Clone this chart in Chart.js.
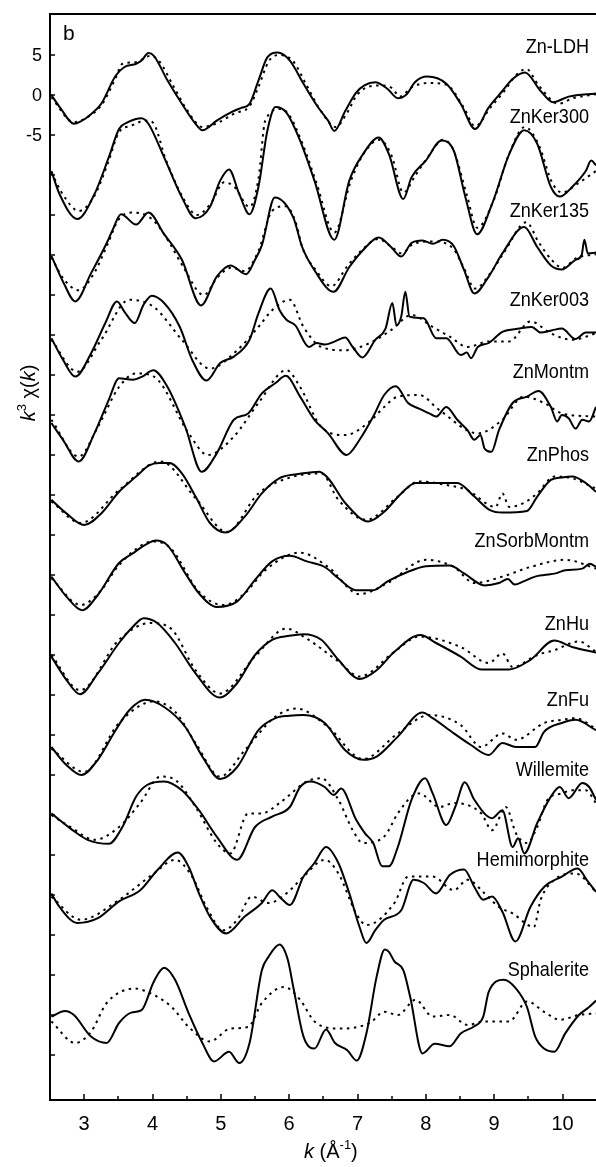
<!DOCTYPE html>
<html>
<head>
<meta charset="utf-8">
<script src="https://cdn.jsdelivr.net/npm/chart.js@4.4.1/dist/chart.umd.min.js"></script>
<style>
html,body{margin:0;padding:0;background:#fff;}
#wrap{width:596px;height:1167px;position:relative;}
</style>
</head>
<body>
<div id="wrap"><canvas id="c" width="596" height="1167"></canvas></div>
<script>
// ---- axis ticks ----
const xMajorTicks = [3, 4, 5, 6, 7, 8, 9, 10];
const xMinorTicks = [3.5, 4.5, 5.5, 6.5, 7.5, 8.5, 9.5];
const yTicks = [5,0,-5,-10,-15,-20,-25,-30,-35,-40,-45,-50,-55,-60,-65,-70,-75,-80,-85,-90,-95,-100,-105,-110,-115,-120];
const yTickLabels = ['5','0','-5'];

// ---- sample names ----
const sampleNames = ['Zn-LDH','ZnKer300','ZnKer135','ZnKer003','ZnMontm','ZnPhos','ZnSorbMontm','ZnHu','ZnFu','Willemite','Hemimorphite','Sphalerite'];
const sampleLabelLevel = [6.0,-2.75,-14.5,-25.6,-34.6,-45.0,-55.75,-66.1,-75.6,-84.4,-95.6,-109.4];

// ---- spectra [k, offset k^3 chi(k)] : experimental (solid) and fit (dotted) ----
const ldhExp = [[2.52,0],[2.65,-1.6],[2.85,-3.6],[2.95,-3.3],[3.1,-2.4],[3.25,-1.1],[3.46,2.4],[3.59,3.5],[3.76,3.9],[3.84,4.3],[3.94,5.25],[4.02,4.9],[4.22,1.8],[4.43,-1.1],[4.63,-3.6],[4.73,-4.4],[4.94,-3.2],[5.14,-2.2],[5.3,-1.6],[5.42,-1.1],[5.55,1.8],[5.68,4.7],[5.83,5.3],[6.01,4.3],[6.21,1.4],[6.42,-1.5],[6.57,-3.2],[6.66,-4.5],[6.82,-2.0],[6.98,0.3],[7.1,1.2],[7.26,1.6],[7.44,0.75],[7.59,-0.4],[7.72,0.1],[7.84,1.6],[8.02,2.3],[8.3,1.4],[8.51,-1.1],[8.72,-4.25],[8.92,-1.55],[9.12,0.5],[9.27,2.0],[9.45,2.8],[9.68,0.5],[9.86,-0.9],[10.09,-0.2],[10.49,0.2]];
const ldhFit = [[2.52,-0.3],[2.85,-3.4],[3.0,-3.0],[3.25,-1.3],[3.46,2.1],[3.56,3.9],[3.75,4.1],[3.97,4.9],[4.1,4.2],[4.3,1.2],[4.5,-1.8],[4.73,-4.0],[4.95,-3.5],[5.2,-2.3],[5.42,-1.4],[5.55,1.0],[5.7,4.2],[5.85,5.0],[6.05,4.3],[6.25,1.3],[6.45,-1.8],[6.68,-4.0],[6.85,-2.2],[7.0,0.1],[7.3,1.2],[7.5,0.9],[7.62,-0.2],[7.8,1.0],[8.05,1.5],[8.3,1.3],[8.55,-1.5],[8.72,-3.9],[8.95,-1.5],[9.15,0.5],[9.3,2.3],[9.47,3.25],[9.65,1.2],[9.94,-1.1],[10.15,-0.4],[10.49,0.1]];

const ker300Exp = [[2.52,-9.5],[2.64,-12.4],[2.9,-15.5],[3.15,-12.4],[3.36,-7.8],[3.51,-4.25],[3.64,-3.4],[3.84,-2.9],[3.94,-3.6],[4.17,-7.8],[4.43,-12.8],[4.63,-15.4],[4.84,-14.0],[4.99,-10.7],[5.12,-9.3],[5.27,-12.4],[5.42,-14.9],[5.55,-11.5],[5.68,-4.5],[5.8,-1.5],[5.96,-2.2],[6.16,-5.7],[6.37,-10.7],[6.66,-18.1],[6.88,-10.7],[7.08,-7.4],[7.31,-5.3],[7.46,-7.4],[7.67,-13.0],[7.79,-10.3],[8.0,-8.2],[8.23,-5.7],[8.41,-7.0],[8.58,-12.8],[8.75,-17.4],[8.97,-13.6],[9.22,-7.4],[9.44,-4.4],[9.63,-6.1],[9.83,-11.5],[9.96,-12.7],[10.14,-11.5],[10.34,-9.5],[10.42,-8.2],[10.49,-8.8]];
const ker300Fit = [[2.52,-9.7],[2.7,-12.6],[2.92,-14.5],[3.15,-12.6],[3.36,-8.2],[3.5,-4.8],[3.7,-3.8],[3.9,-3.2],[4.0,-3.4],[4.2,-8.2],[4.45,-12.9],[4.65,-15.0],[4.85,-13.6],[5.05,-10.9],[5.2,-11.5],[5.42,-14.0],[5.55,-10.5],[5.65,-3.2],[5.88,-1.75],[6.0,-2.5],[6.2,-6.2],[6.4,-11.0],[6.66,-17.2],[6.9,-10.8],[7.1,-7.2],[7.32,-5.6],[7.5,-7.6],[7.67,-12.2],[7.85,-10.0],[8.05,-7.5],[8.25,-5.6],[8.4,-6.8],[8.6,-12.5],[8.75,-16.6],[9.0,-13.0],[9.2,-7.8],[9.45,-4.0],[9.65,-6.2],[9.85,-11.0],[10.0,-12.2],[10.2,-11.2],[10.49,-9.5]];

const ker135Exp = [[2.52,-20.1],[2.7,-23.5],[2.87,-25.8],[3.1,-22.3],[3.33,-18.5],[3.41,-17.0],[3.54,-14.9],[3.76,-16.2],[3.94,-14.7],[4.17,-17.4],[4.43,-20.6],[4.71,-26.3],[4.94,-22.7],[5.14,-21.3],[5.37,-22.4],[5.5,-20.6],[5.6,-18.8],[5.79,-12.8],[6.06,-15.3],[6.19,-19.0],[6.37,-21.9],[6.65,-24.6],[6.88,-21.5],[7.08,-19.4],[7.31,-17.8],[7.49,-19.0],[7.64,-20.2],[7.79,-18.5],[7.95,-18.2],[8.1,-18.6],[8.25,-18.1],[8.41,-18.9],[8.56,-21.9],[8.71,-24.8],[8.92,-22.7],[9.12,-19.8],[9.44,-16.5],[9.63,-19.0],[9.83,-21.3],[9.99,-21.8],[10.19,-20.6],[10.28,-20.0],[10.32,-18.1],[10.37,-19.8],[10.49,-19.7]];
const ker135Fit = [[2.52,-20.3],[2.7,-23.0],[2.92,-24.4],[3.15,-22.2],[3.35,-18.5],[3.5,-15.6],[3.71,-14.7],[3.9,-15.0],[4.05,-16.0],[4.25,-18.5],[4.45,-21.5],[4.75,-25.0],[4.95,-22.8],[5.15,-21.6],[5.35,-22.0],[5.55,-19.5],[5.75,-14.5],[5.95,-13.9],[6.1,-16.0],[6.19,-19.0],[6.4,-22.0],[6.62,-23.9],[6.85,-21.4],[7.05,-19.5],[7.3,-18.0],[7.5,-19.0],[7.65,-19.8],[7.8,-18.7],[8.1,-18.3],[8.4,-19.2],[8.55,-21.5],[8.72,-24.2],[8.95,-22.2],[9.15,-19.6],[9.47,-15.9],[9.65,-18.4],[9.85,-20.7],[10.0,-21.6],[10.2,-20.4],[10.49,-19.9]];

const ker003Exp = [[2.52,-30.4],[2.69,-33.1],[2.87,-35.2],[3.1,-32.3],[3.31,-28.5],[3.48,-25.8],[3.59,-27.1],[3.74,-28.5],[3.87,-26.2],[3.99,-25.1],[4.17,-26.0],[4.4,-29.0],[4.58,-33.1],[4.79,-35.7],[4.99,-33.5],[5.19,-32.7],[5.42,-30.6],[5.55,-27.3],[5.73,-24.2],[5.86,-26.9],[5.96,-28.1],[6.09,-28.8],[6.29,-31.5],[6.4,-31.0],[6.52,-31.2],[6.67,-30.8],[6.82,-30.3],[6.93,-31.5],[7.07,-32.8],[7.26,-30.6],[7.41,-29.2],[7.51,-26.0],[7.57,-28.8],[7.64,-27.7],[7.7,-24.6],[7.76,-27.7],[7.97,-27.9],[8.15,-30.4],[8.3,-30.4],[8.51,-32.5],[8.6,-32.2],[8.66,-32.9],[8.76,-31.5],[8.92,-31.0],[9.12,-29.6],[9.37,-29.2],[9.55,-29.0],[9.68,-29.7],[9.85,-29.4],[9.99,-29.2],[10.19,-30.5],[10.34,-29.7],[10.49,-29.7]];
const ker003Fit = [[2.52,-30.6],[2.9,-34.6],[3.25,-30.6],[3.66,-25.6],[4.02,-26.5],[4.43,-30.6],[4.84,-34.2],[5.24,-31.9],[5.55,-29.0],[5.75,-26.9],[6.01,-25.6],[6.21,-29.0],[6.47,-31.5],[6.82,-31.9],[7.18,-31.0],[7.49,-29.4],[7.79,-27.5],[8.1,-29.0],[8.35,-30.2],[8.61,-31.5],[8.92,-30.8],[9.22,-30.8],[9.53,-28.3],[9.83,-29.8],[10.14,-30.6],[10.49,-29.8]];

const montmExp = [[2.52,-41.0],[2.69,-43.1],[2.92,-45.8],[3.15,-42.3],[3.36,-38.1],[3.51,-35.4],[3.71,-35.6],[3.85,-35.2],[4.01,-34.4],[4.22,-36.5],[4.48,-41.5],[4.72,-47.1],[4.94,-44.8],[5.19,-40.6],[5.4,-39.8],[5.6,-37.3],[5.8,-36.0],[5.95,-35.1],[6.16,-37.7],[6.37,-40.6],[6.57,-42.3],[6.84,-45.0],[7.03,-43.1],[7.23,-40.2],[7.39,-37.5],[7.56,-36.4],[7.74,-38.5],[7.9,-39.2],[8.05,-39.8],[8.15,-40.2],[8.3,-39.0],[8.46,-40.6],[8.61,-41.9],[8.71,-43.1],[8.8,-42.5],[8.86,-44.2],[8.96,-44.6],[9.07,-41.9],[9.27,-38.5],[9.48,-37.7],[9.65,-37.0],[9.83,-39.0],[9.92,-40.8],[9.99,-40.0],[10.09,-40.4],[10.19,-41.7],[10.29,-40.6],[10.39,-40.8],[10.49,-39.0]];
const montmFit = [[2.52,-40.6],[2.92,-45.2],[3.2,-41.5],[3.51,-36.5],[3.76,-34.8],[4.02,-35.2],[4.53,-42.3],[4.81,-45.0],[5.19,-42.7],[5.55,-38.5],[5.96,-34.4],[6.16,-36.5],[6.47,-41.5],[6.82,-42.5],[7.18,-40.8],[7.39,-39.0],[7.59,-37.7],[7.9,-37.5],[8.2,-39.4],[8.76,-42.3],[9.12,-40.6],[9.43,-37.7],[9.73,-38.5],[9.99,-39.8],[10.49,-40.2]];

const phosExp = [[2.52,-50.6],[2.74,-52.3],[3.0,-53.75],[3.25,-52.3],[3.51,-49.6],[3.76,-47.7],[3.95,-46.3],[4.1,-46.0],[4.25,-46.0],[4.43,-47.3],[4.63,-50.2],[4.84,-53.5],[5.07,-54.7],[5.35,-52.7],[5.6,-49.8],[5.86,-47.9],[6.11,-47.4],[6.3,-47.2],[6.44,-47.1],[6.57,-47.9],[6.82,-51.0],[7.16,-53.3],[7.39,-52.1],[7.64,-49.8],[7.85,-48.5],[8.1,-48.5],[8.46,-48.5],[8.71,-50.2],[8.94,-51.9],[9.12,-52.2],[9.48,-52.0],[9.63,-50.2],[9.83,-48.1],[9.99,-47.8],[10.14,-47.7],[10.34,-48.5],[10.49,-49.6]];
const phosFit = [[2.52,-50.8],[2.95,-53.5],[3.51,-49.4],[4.12,-45.8],[4.63,-50.4],[5.09,-54.6],[5.55,-49.8],[6.06,-47.7],[6.47,-47.3],[6.72,-50.6],[7.13,-53.1],[7.59,-50.2],[7.9,-48.3],[8.3,-48.75],[8.61,-49.4],[9.02,-51.5],[9.12,-49.8],[9.22,-51.5],[9.43,-51.0],[9.63,-49.8],[9.88,-47.7],[10.14,-47.9],[10.49,-49.2]];

const sorbExp = [[2.52,-60.2],[2.74,-62.7],[2.97,-64.4],[3.2,-62.5],[3.51,-58.5],[3.71,-57.3],[3.9,-56.2],[4.05,-55.7],[4.22,-56.3],[4.48,-59.8],[4.68,-62.3],[4.94,-64.0],[5.24,-63.3],[5.5,-60.6],[5.75,-58.3],[6.01,-57.6],[6.26,-58.3],[6.52,-59.0],[6.72,-60.4],[6.98,-61.9],[7.23,-61.9],[7.44,-60.8],[7.74,-59.6],[8.0,-58.9],[8.35,-58.8],[8.56,-59.8],[8.86,-61.3],[9.07,-61.0],[9.2,-60.5],[9.3,-61.2],[9.43,-60.8],[9.6,-60.2],[9.73,-60.0],[9.9,-59.8],[10.04,-59.4],[10.29,-59.2],[10.4,-58.6],[10.49,-59.0]];
const sorbFit = [[2.52,-60.4],[2.95,-63.75],[3.25,-61.9],[3.51,-58.75],[4.02,-55.8],[4.27,-56.7],[4.68,-62.1],[5.04,-63.75],[5.35,-62.3],[5.65,-59.4],[6.16,-57.2],[6.57,-59.0],[7.03,-62.4],[7.44,-61.0],[8.0,-58.1],[8.41,-59.0],[8.71,-61.0],[9.12,-60.2],[9.53,-59.0],[10.04,-58.1],[10.49,-59.2]];

const huExp = [[2.52,-70.2],[2.74,-73.1],[2.94,-74.9],[3.2,-72.3],[3.51,-68.5],[3.71,-66.5],[3.87,-65.4],[4.07,-66.0],[4.33,-68.5],[4.63,-72.3],[4.98,-75.3],[5.24,-73.5],[5.5,-70.0],[5.75,-68.1],[6.0,-67.6],[6.21,-67.4],[6.47,-68.1],[6.72,-70.6],[7.03,-73.0],[7.28,-71.9],[7.54,-69.6],[7.92,-67.5],[8.15,-68.5],[8.51,-70.2],[8.81,-71.8],[9.22,-71.8],[9.53,-70.6],[9.88,-68.2],[10.14,-69.0],[10.49,-69.7]];
const huFit = [[2.52,-70.0],[2.94,-74.4],[3.51,-68.1],[3.97,-66.0],[4.27,-66.7],[4.63,-71.9],[4.99,-74.8],[5.5,-70.2],[5.96,-66.7],[6.21,-67.7],[6.72,-70.8],[7.03,-72.7],[7.54,-69.6],[7.9,-67.7],[8.51,-69.0],[8.92,-71.0],[9.12,-69.8],[9.27,-71.5],[9.63,-70.0],[9.88,-69.4],[10.24,-68.3],[10.49,-69.6]];

const fuExp = [[2.52,-81.5],[2.74,-83.75],[2.96,-85.0],[3.2,-83.1],[3.46,-79.4],[3.66,-76.9],[3.89,-75.6],[4.17,-76.5],[4.48,-79.0],[4.73,-82.7],[4.99,-85.5],[5.24,-84.0],[5.55,-79.4],[5.8,-77.9],[6.0,-77.6],[6.21,-77.5],[6.52,-78.5],[6.82,-81.9],[7.08,-83.1],[7.28,-82.7],[7.59,-80.2],[7.95,-77.2],[8.1,-77.9],[8.41,-79.8],[8.66,-81.25],[8.92,-82.5],[9.12,-81.0],[9.32,-81.5],[9.6,-81.5],[9.73,-79.6],[9.99,-78.5],[10.19,-78.1],[10.49,-79.4]];
const fuFit = [[2.52,-81.7],[3.0,-84.6],[3.51,-78.5],[4.02,-75.8],[4.33,-77.1],[4.63,-81.0],[4.99,-85.2],[5.35,-81.9],[5.8,-77.7],[6.11,-76.7],[6.57,-79.0],[7.08,-83.0],[7.59,-79.8],[8.05,-77.5],[8.51,-78.75],[8.81,-81.5],[9.12,-79.8],[9.32,-80.6],[9.73,-78.5],[9.99,-78.1],[10.19,-77.9],[10.49,-79.2]];

const willExp = [[2.52,-89.8],[2.8,-91.7],[3.05,-93.1],[3.36,-93.6],[3.56,-91.5],[3.76,-87.7],[3.92,-86.25],[4.17,-85.8],[4.43,-86.9],[4.68,-89.4],[4.94,-92.7],[5.24,-95.6],[5.5,-91.5],[5.75,-90.2],[6.01,-89.0],[6.16,-86.5],[6.31,-85.8],[6.52,-86.5],[6.65,-87.5],[6.76,-86.7],[6.98,-90.6],[7.11,-92.3],[7.23,-93.5],[7.36,-96.4],[7.46,-96.4],[7.59,-94.0],[7.79,-88.1],[7.99,-85.4],[8.1,-87.3],[8.3,-91.25],[8.43,-89.0],[8.57,-85.9],[8.71,-88.1],[8.97,-90.4],[9.12,-89.4],[9.27,-94.0],[9.35,-92.9],[9.44,-94.8],[9.63,-91.0],[9.83,-87.7],[9.96,-86.5],[10.09,-87.9],[10.29,-86.0],[10.39,-86.5],[10.49,-88.1]];
const willFit = [[2.52,-90.0],[2.8,-91.5],[3.15,-93.1],[3.51,-91.5],[3.82,-88.5],[4.12,-85.2],[4.33,-85.6],[4.63,-89.0],[4.94,-93.5],[5.14,-94.8],[5.4,-89.8],[5.6,-89.8],[5.86,-88.5],[6.26,-85.8],[6.47,-85.4],[6.72,-88.1],[6.93,-91.9],[7.08,-93.5],[7.39,-92.7],[7.59,-89.8],[7.79,-87.7],[7.9,-87.3],[8.2,-89.0],[8.41,-88.5],[8.81,-89.8],[8.97,-91.9],[9.17,-89.0],[9.32,-92.3],[9.48,-93.5],[9.63,-91.5],[9.78,-88.1],[9.99,-87.3],[10.14,-86.9],[10.34,-86.9],[10.49,-88.5]];

const hemiExp = [[2.52,-99.8],[2.64,-101.5],[2.9,-103.5],[3.2,-102.9],[3.51,-100.8],[3.82,-99.4],[4.07,-96.9],[4.37,-94.7],[4.53,-96.5],[4.68,-99.8],[4.84,-102.7],[5.08,-104.8],[5.35,-102.7],[5.6,-101.0],[5.75,-99.4],[5.88,-100.4],[6.01,-101.25],[6.21,-97.7],[6.37,-96.0],[6.54,-94.0],[6.72,-96.0],[6.88,-99.8],[7.03,-104.0],[7.13,-106.0],[7.26,-104.4],[7.39,-103.1],[7.64,-101.9],[7.82,-98.1],[7.97,-98.5],[8.15,-99.8],[8.35,-97.5],[8.56,-96.8],[8.71,-99.0],[8.84,-100.6],[8.97,-100.2],[9.12,-102.1],[9.31,-105.8],[9.53,-101.5],[9.73,-99.0],[9.99,-97.7],[10.22,-96.7],[10.37,-98.3],[10.49,-99.6]];
const hemiFit = [[2.52,-100.2],[2.95,-103.1],[3.51,-100.6],[4.02,-97.3],[4.33,-95.6],[4.58,-97.7],[4.79,-101.5],[5.04,-104.4],[5.24,-103.1],[5.45,-100.2],[5.7,-101.0],[5.96,-99.8],[6.21,-97.7],[6.52,-95.6],[6.72,-97.3],[6.98,-102.3],[7.13,-103.75],[7.54,-101.0],[7.74,-97.7],[8.1,-97.7],[8.41,-99.4],[8.61,-98.1],[8.86,-99.8],[9.07,-101.5],[9.27,-102.3],[9.58,-104.0],[9.68,-100.6],[9.88,-98.1],[10.19,-97.3],[10.49,-99.6]];

const sphExp = [[2.52,-115.2],[2.72,-114.5],[2.85,-115.0],[3.1,-117.7],[3.33,-118.5],[3.51,-116.0],[3.69,-114.7],[3.84,-114.4],[4.02,-110.8],[4.17,-109.1],[4.33,-110.6],[4.53,-114.8],[4.73,-118.5],[4.9,-120.8],[5.12,-119.6],[5.27,-121.0],[5.42,-118.5],[5.6,-109.4],[5.7,-107.7],[5.86,-106.2],[5.98,-108.1],[6.06,-111.5],[6.21,-117.7],[6.37,-119.2],[6.54,-116.8],[6.67,-118.5],[6.85,-119.4],[6.99,-120.7],[7.13,-117.3],[7.28,-110.2],[7.4,-106.8],[7.46,-107.1],[7.54,-108.3],[7.67,-109.4],[7.77,-112.7],[7.95,-119.8],[8.13,-118.6],[8.35,-118.9],[8.51,-117.3],[8.71,-116.4],[8.84,-115.2],[8.92,-112.1],[9.14,-110.6],[9.32,-111.7],[9.48,-114.0],[9.6,-117.7],[9.73,-119.2],[9.88,-119.6],[10.04,-117.3],[10.24,-115.0],[10.39,-114.0],[10.49,-113.2]];
const sphFit = [[2.52,-115.8],[2.87,-118.5],[3.1,-117.1],[3.33,-113.5],[3.74,-111.7],[4.02,-112.5],[4.28,-114.0],[4.53,-116.5],[4.84,-118.3],[5.14,-116.7],[5.4,-116.5],[5.6,-113.5],[5.93,-111.5],[6.16,-113.1],[6.37,-115.8],[6.72,-116.7],[7.18,-116.0],[7.39,-114.6],[7.59,-115.0],[7.85,-113.1],[8.1,-115.2],[8.35,-115.0],[8.61,-116.25],[8.86,-115.8],[9.22,-115.8],[9.48,-113.3],[9.73,-114.6],[9.96,-115.6],[10.24,-115.0],[10.49,-114.8]];

const expSeries = [ldhExp, ker300Exp, ker135Exp, ker003Exp, montmExp, phosExp, sorbExp, huExp, fuExp, willExp, hemiExp, sphExp];
const fitSeries = [ldhFit, ker300Fit, ker135Fit, ker003Fit, montmFit, phosFit, sorbFit, huFit, fuFit, willFit, hemiFit, sphFit];

const toXY = arr => arr.map(p => ({x: p[0], y: p[1]}));
const datasets = [];
sampleNames.forEach((name, i) => {
  datasets.push({label: name + ' data', data: toXY(expSeries[i]), borderColor: '#000', borderWidth: 2,
    pointRadius: 0, fill: false, cubicInterpolationMode: 'monotone'});
  datasets.push({label: name + ' fit', data: toXY(fitSeries[i]), borderColor: '#000', borderWidth: 2,
    borderDash: [2.5, 4.5], borderCapStyle: 'butt', pointRadius: 0, fill: false, cubicInterpolationMode: 'monotone'});
});

const FONT = '"Liberation Sans", Arial, Helvetica, sans-serif';

const decor = {
  id: 'decor',
  afterDraw(chart) {
    const {ctx, chartArea: a, scales: {x, y}} = chart;
    ctx.save();
    ctx.strokeStyle = '#000';
    ctx.fillStyle = '#000';
    ctx.lineWidth = 2;
    ctx.beginPath();
    ctx.moveTo(a.left, a.top); ctx.lineTo(a.right + 2, a.top);
    ctx.moveTo(a.left, a.top - 1); ctx.lineTo(a.left, a.bottom + 1);
    ctx.moveTo(a.left - 1, a.bottom); ctx.lineTo(a.right + 2, a.bottom);
    ctx.stroke();
    // x ticks (inside)
    ctx.lineWidth = 1.5;
    ctx.beginPath();
    xMajorTicks.forEach(v => { const px = Math.round(x.getPixelForValue(v)); ctx.moveTo(px, a.bottom); ctx.lineTo(px, a.bottom - 6); });
    xMinorTicks.forEach(v => { const px = Math.round(x.getPixelForValue(v)); ctx.moveTo(px, a.bottom); ctx.lineTo(px, a.bottom - 4); });
    yTicks.forEach(v => { const py = Math.round(y.getPixelForValue(v)); ctx.moveTo(a.left, py); ctx.lineTo(a.left + 5, py); });
    ctx.stroke();
    // x tick labels
    ctx.font = '20px ' + FONT;
    ctx.textAlign = 'center';
    ctx.textBaseline = 'alphabetic';
    xMajorTicks.forEach(v => ctx.fillText(String(v), x.getPixelForValue(v), a.bottom + 30));
    // y tick labels
    ctx.font = '18px ' + FONT;
    ctx.textAlign = 'right';
    ctx.textBaseline = 'middle';
    yTickLabels.forEach((t, i) => ctx.fillText(t, a.left - 8, y.getPixelForValue(yTicks[i]) + 1));
    // panel letter
    ctx.font = '21px ' + FONT;
    ctx.textAlign = 'left';
    ctx.textBaseline = 'alphabetic';
    ctx.fillText('b', a.left + 13, a.top + 26);
    // sample labels
    ctx.font = '21px ' + FONT;
    ctx.textAlign = 'right';
    ctx.textBaseline = 'middle';
    sampleNames.forEach((n, i) => {
      ctx.save();
      ctx.translate(589, y.getPixelForValue(sampleLabelLevel[i]));
      ctx.scale(0.86, 1);
      ctx.fillText(n, 0, 0);
      ctx.restore();
    });
    // x title: k (Å-1)
    ctx.textAlign = 'left';
    ctx.textBaseline = 'alphabetic';
    let cx = 304; const by = 1158;
    ctx.font = 'italic 20px ' + FONT; ctx.fillText('k', cx, by); cx += ctx.measureText('k').width;
    ctx.font = '20px ' + FONT; ctx.fillText(' (Å', cx, by); cx += ctx.measureText(' (Å').width;
    ctx.font = '13px ' + FONT; ctx.fillText('-1', cx, by - 9); cx += ctx.measureText('-1').width;
    ctx.font = '20px ' + FONT; ctx.fillText(')', cx, by);
    // y title: k3 χ(k)
    ctx.save();
    ctx.translate(35, 393);
    ctx.rotate(-Math.PI / 2);
    const parts = [['italic 20px ', 'k', 0], ['13px ', '3', -9], ['20px ', ' χ(', 0], ['italic 20px ', 'k', 0], ['20px ', ')', 0]];
    let w = 0;
    parts.forEach(p => { ctx.font = p[0] + FONT; w += ctx.measureText(p[1]).width; });
    let tx = -w / 2;
    parts.forEach(p => { ctx.font = p[0] + FONT; ctx.fillText(p[1], tx, p[2]); tx += ctx.measureText(p[1]).width; });
    ctx.restore();
    ctx.restore();
  }
};

new Chart(document.getElementById('c'), {
  type: 'line',
  data: {datasets},
  options: {
    responsive: false,
    animation: false,
    devicePixelRatio: 1,
    layout: {padding: {left: 50, top: 14, right: 0, bottom: 67}},
    plugins: {legend: {display: false}, tooltip: {enabled: false}},
    scales: {
      x: {type: 'linear', min: 2.5, max: 10.49, display: false},
      y: {type: 'linear', min: -125.625, max: 10.125, display: false}
    }
  },
  plugins: [decor]
});
</script>
</body>
</html>
